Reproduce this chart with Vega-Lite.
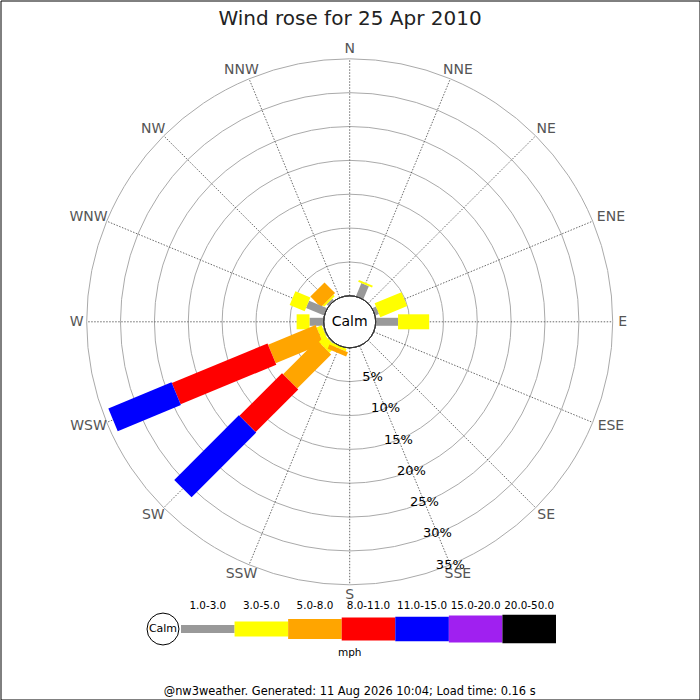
{
  "$schema": "https://vega.github.io/schema/vega-lite/v6.json",
  "width": 699,
  "height": 699,
  "padding": {"left": 0.5, "top": 0.5, "right": 0.5, "bottom": 0.5},
  "autosize": {"type": "none"},
  "background": "white",
  "title": {"text": "Wind rose for 25 Apr 2010", "fontSize": 20, "font": "DejaVu Sans", "fontWeight": "normal", "color": "#222222", "offset": -28, "anchor": "middle", "frame": "group"},
  "config": {"view": {"stroke": "#000000", "strokeWidth": 1}, "font": "DejaVu Sans"},
  "datasets": {
    "dirs": [
      {"dir": "N", "angle": 0}, {"dir": "NNE", "angle": 22.5}, {"dir": "NE", "angle": 45}, {"dir": "ENE", "angle": 67.5},
      {"dir": "E", "angle": 90}, {"dir": "ESE", "angle": 112.5}, {"dir": "SE", "angle": 135}, {"dir": "SSE", "angle": 157.5},
      {"dir": "S", "angle": 180}, {"dir": "SSW", "angle": 202.5}, {"dir": "SW", "angle": 225}, {"dir": "WSW", "angle": 247.5},
      {"dir": "W", "angle": 270}, {"dir": "WNW", "angle": 292.5}, {"dir": "NW", "angle": 315}, {"dir": "NNW", "angle": 337.5}
    ],
    "bars": [
      {"dir": "E", "angle": 90, "lo": 1, "speed": "1.0-3.0", "pct": 3.3},
      {"dir": "E", "angle": 90, "lo": 3, "speed": "3.0-5.0", "pct": 4.6},
      {"dir": "ENE", "angle": 67.5, "lo": 1, "speed": "1.0-3.0", "pct": 0.6},
      {"dir": "ENE", "angle": 67.5, "lo": 3, "speed": "3.0-5.0", "pct": 4.3},
      {"dir": "NNE", "angle": 22.5, "lo": 1, "speed": "1.0-3.0", "pct": 2.1},
      {"dir": "NNE", "angle": 22.5, "lo": 3, "speed": "3.0-5.0", "pct": 0.3},
      {"dir": "NW", "angle": 315, "lo": 1, "speed": "1.0-3.0", "pct": 0.4},
      {"dir": "NW", "angle": 315, "lo": 3, "speed": "3.0-5.0", "pct": 0.3},
      {"dir": "NW", "angle": 315, "lo": 5, "speed": "5.0-8.0", "pct": 2.2},
      {"dir": "WNW", "angle": 292.5, "lo": 1, "speed": "1.0-3.0", "pct": 2.9},
      {"dir": "WNW", "angle": 292.5, "lo": 3, "speed": "3.0-5.0", "pct": 2.4},
      {"dir": "W", "angle": 270, "lo": 1, "speed": "1.0-3.0", "pct": 2.1},
      {"dir": "W", "angle": 270, "lo": 3, "speed": "3.0-5.0", "pct": 1.9},
      {"dir": "WSW", "angle": 247.5, "lo": 1, "speed": "1.0-3.0", "pct": 0.2},
      {"dir": "WSW", "angle": 247.5, "lo": 3, "speed": "3.0-5.0", "pct": 0.8},
      {"dir": "WSW", "angle": 247.5, "lo": 5, "speed": "5.0-8.0", "pct": 7.6},
      {"dir": "WSW", "angle": 247.5, "lo": 8, "speed": "8.0-11.0", "pct": 15.3},
      {"dir": "WSW", "angle": 247.5, "lo": 11, "speed": "11.0-15.0", "pct": 10.1},
      {"dir": "SW", "angle": 225, "lo": 1, "speed": "1.0-3.0", "pct": 0.2},
      {"dir": "SW", "angle": 225, "lo": 3, "speed": "3.0-5.0", "pct": 1.3},
      {"dir": "SW", "angle": 225, "lo": 5, "speed": "5.0-8.0", "pct": 7.1},
      {"dir": "SW", "angle": 225, "lo": 8, "speed": "8.0-11.0", "pct": 8.9},
      {"dir": "SW", "angle": 225, "lo": 11, "speed": "11.0-15.0", "pct": 13.5},
      {"dir": "SSW", "angle": 202.5, "lo": 3, "speed": "3.0-5.0", "pct": 0.4},
      {"dir": "SSW", "angle": 202.5, "lo": 5, "speed": "5.0-8.0", "pct": 0.7}
    ],
    "rings": [{"pct": 5}, {"pct": 10}, {"pct": 15}, {"pct": 20}, {"pct": 25}, {"pct": 30}, {"pct": 35}],
    "classes": [
      {"speed": "1.0-3.0"}, {"speed": "3.0-5.0"}, {"speed": "5.0-8.0"}, {"speed": "8.0-11.0"},
      {"speed": "11.0-15.0"}, {"speed": "15.0-20.0"}, {"speed": "20.0-50.0"}
    ]
  },
  "layer": [
    {
      "layer": [
        {
          "data": {"name": "rings"},
          "mark": {"type": "arc", "theta": 0, "theta2": 6.2832, "filled": false, "stroke": "#aaaaaa", "strokeWidth": 1},
          "encoding": {
            "x": {"datum": 0, "type": "quantitative", "scale": {"domain": [-51.581, 51.669], "nice": false, "zero": false}, "axis": null},
            "y": {"datum": 0, "type": "quantitative", "scale": {"domain": [-55.79, 47.459], "nice": false, "zero": false}, "axis": null},
            "radius": {"field": "pct", "type": "quantitative", "stack": null, "scale": {"type": "linear", "domain": [0, 35], "range": [26, 263], "zero": false}}
          }
        },
        {
          "data": {"name": "dirs"},
          "transform": [
            {"calculate": "datum.angle*PI/180", "as": "a"},
            {"calculate": "3.84*sin(datum.a)", "as": "gx0"},
            {"calculate": "3.84*cos(datum.a)", "as": "gy0"},
            {"calculate": "38.84*sin(datum.a)", "as": "gx1"},
            {"calculate": "38.84*cos(datum.a)", "as": "gy1"}
          ],
          "mark": {"type": "rule", "stroke": "#444444", "strokeWidth": 0.8, "strokeDash": [1.5, 1.5]},
          "encoding": {
            "x": {"field": "gx0", "type": "quantitative", "scale": {"domain": [-51.581, 51.669], "nice": false, "zero": false}, "axis": null},
            "y": {"field": "gy0", "type": "quantitative", "scale": {"domain": [-55.79, 47.459], "nice": false, "zero": false}, "axis": null},
            "x2": {"field": "gx1"},
            "y2": {"field": "gy1"}
          }
        },
        {
          "data": {"name": "bars"},
          "transform": [
            {"stack": "pct", "groupby": ["dir"], "sort": [{"field": "lo", "order": "ascending"}], "as": ["p0", "p1"]},
            {"calculate": "datum.angle*PI/180", "as": "a"},
            {"calculate": "(datum.p0+3.84)*sin(datum.a)", "as": "bx0"},
            {"calculate": "(datum.p0+3.84)*cos(datum.a)", "as": "by0"},
            {"calculate": "(datum.p1+3.84)*sin(datum.a)", "as": "bx1"},
            {"calculate": "(datum.p1+3.84)*cos(datum.a)", "as": "by1"}
          ],
          "mark": {"type": "rule", "strokeCap": "butt"},
          "encoding": {
            "x": {"field": "bx0", "type": "quantitative", "scale": {"domain": [-51.581, 51.669], "nice": false, "zero": false}, "axis": null},
            "y": {"field": "by0", "type": "quantitative", "scale": {"domain": [-55.79, 47.459], "nice": false, "zero": false}, "axis": null},
            "x2": {"field": "bx1"},
            "y2": {"field": "by1"},
            "color": {"field": "speed", "type": "nominal", "scale": {"domain": ["1.0-3.0", "3.0-5.0", "5.0-8.0", "8.0-11.0", "11.0-15.0", "15.0-20.0", "20.0-50.0"], "range": ["#999999", "#ffff00", "#ffa500", "#ff0000", "#0000ff", "#a020f0", "#000000"]}, "legend": null},
            "strokeWidth": {"field": "speed", "type": "ordinal", "scale": {"type": "ordinal", "domain": ["1.0-3.0", "3.0-5.0", "5.0-8.0", "8.0-11.0", "11.0-15.0", "15.0-20.0", "20.0-50.0"], "range": [8, 15, 20, 23, 24.5, 27, 28.5]}, "legend": null}
          }
        },
        {
          "data": {"values": [{}]},
          "mark": {"type": "arc", "theta": 0, "theta2": 6.2832, "fill": "#ffffff", "stroke": "#333333", "strokeWidth": 1},
          "encoding": {
            "x": {"datum": 0, "type": "quantitative", "scale": {"domain": [-51.581, 51.669], "nice": false, "zero": false}, "axis": null},
            "y": {"datum": 0, "type": "quantitative", "scale": {"domain": [-55.79, 47.459], "nice": false, "zero": false}, "axis": null},
            "radius": {"datum": 0, "type": "quantitative", "stack": null, "scale": {"type": "linear", "domain": [0, 35], "range": [26, 263], "zero": false}}
          }
        },
        {
          "data": {"values": [{}]},
          "mark": {"type": "text", "text": "Calm", "fontSize": 14, "align": "center", "baseline": "middle", "color": "#000000"},
          "encoding": {
            "x": {"datum": 0, "type": "quantitative", "scale": {"domain": [-51.581, 51.669], "nice": false, "zero": false}, "axis": null},
            "y": {"datum": 0, "type": "quantitative", "scale": {"domain": [-55.79, 47.459], "nice": false, "zero": false}, "axis": null}
          }
        },
        {
          "data": {"name": "dirs"},
          "transform": [
            {"calculate": "datum.angle*PI/180", "as": "a"},
            {"calculate": "(39.59 + 0.724*length(datum.dir))*sin(datum.a)", "as": "lx"},
            {"calculate": "40.3*cos(datum.a)", "as": "ly"}
          ],
          "mark": {"type": "text", "fontSize": 14, "align": "center", "baseline": "middle", "color": "#555555"},
          "encoding": {
            "x": {"field": "lx", "type": "quantitative", "scale": {"domain": [-51.581, 51.669], "nice": false, "zero": false}, "axis": null},
            "y": {"field": "ly", "type": "quantitative", "scale": {"domain": [-55.79, 47.459], "nice": false, "zero": false}, "axis": null},
            "text": {"field": "dir"}
          }
        },
        {
          "data": {"name": "rings"},
          "transform": [
            {"calculate": "(datum.pct+3.84)*sin(157.5*PI/180)", "as": "tx"},
            {"calculate": "(datum.pct+3.84)*cos(157.5*PI/180)", "as": "ty"},
            {"calculate": "datum.pct + '%'", "as": "label"}
          ],
          "mark": {"type": "text", "fontSize": 13, "align": "center", "baseline": "middle", "color": "#000000"},
          "encoding": {
            "x": {"field": "tx", "type": "quantitative", "scale": {"domain": [-51.581, 51.669], "nice": false, "zero": false}, "axis": null},
            "y": {"field": "ty", "type": "quantitative", "scale": {"domain": [-55.79, 47.459], "nice": false, "zero": false}, "axis": null},
            "text": {"field": "label"}
          }
        },
        {
          "data": {"values": [{}]},
          "mark": {"type": "point", "shape": "circle", "size": 1018, "filled": true, "fill": "#ffffff", "stroke": "#000000", "strokeWidth": 1, "opacity": 1},
          "encoding": {
            "x": {"datum": -27.58, "type": "quantitative", "scale": {"domain": [-51.581, 51.669], "nice": false, "zero": false}, "axis": null},
            "y": {"datum": -45.38, "type": "quantitative", "scale": {"domain": [-55.79, 47.459], "nice": false, "zero": false}, "axis": null}
          }
        },
        {
          "data": {"values": [{}]},
          "mark": {"type": "text", "text": "Calm", "fontSize": 11, "align": "center", "baseline": "middle", "color": "#000000"},
          "encoding": {
            "x": {"datum": -27.58, "type": "quantitative", "scale": {"domain": [-51.581, 51.669], "nice": false, "zero": false}, "axis": null},
            "y": {"datum": -45.38, "type": "quantitative", "scale": {"domain": [-55.79, 47.459], "nice": false, "zero": false}, "axis": null}
          }
        },
        {
          "data": {"values": [{}]},
          "mark": {"type": "text", "text": "mph", "fontSize": 10.5, "align": "center", "baseline": "middle", "color": "#000000"},
          "encoding": {
            "x": {"datum": 0, "type": "quantitative", "scale": {"domain": [-51.581, 51.669], "nice": false, "zero": false}, "axis": null},
            "y": {"datum": -48.92, "type": "quantitative", "scale": {"domain": [-55.79, 47.459], "nice": false, "zero": false}, "axis": null}
          }
        },
        {
          "data": {"values": [{}]},
          "mark": {"type": "text", "text": "@nw3weather. Generated: 11 Aug 2026 10:04; Load time: 0.16 s", "fontSize": 11.4, "align": "center", "baseline": "middle", "color": "#000000"},
          "encoding": {
            "x": {"datum": 0, "type": "quantitative", "scale": {"domain": [-51.581, 51.669], "nice": false, "zero": false}, "axis": null},
            "y": {"datum": -54.68, "type": "quantitative", "scale": {"domain": [-55.79, 47.459], "nice": false, "zero": false}, "axis": null}
          }
        }
      ]
    },
    {
      "data": {"name": "classes"},
      "layer": [
        {
          "mark": {"type": "rule", "strokeCap": "butt"},
          "encoding": {
            "x": {"field": "speed", "type": "ordinal", "bandPosition": 0, "scale": {"type": "band", "domain": ["1.0-3.0", "3.0-5.0", "5.0-8.0", "8.0-11.0", "11.0-15.0", "15.0-20.0", "20.0-50.0"], "range": [180.5, 555.5], "paddingInner": 0, "paddingOuter": 0}, "axis": null},
            "x2": {"field": "speed", "bandPosition": 1},
            "y": {"datum": -45.38, "type": "quantitative", "scale": {"domain": [-55.79, 47.459], "nice": false, "zero": false}, "axis": null},
            "color": {"field": "speed", "type": "nominal", "scale": {"domain": ["1.0-3.0", "3.0-5.0", "5.0-8.0", "8.0-11.0", "11.0-15.0", "15.0-20.0", "20.0-50.0"], "range": ["#999999", "#ffff00", "#ffa500", "#ff0000", "#0000ff", "#a020f0", "#000000"]}, "legend": null},
            "strokeWidth": {"field": "speed", "type": "ordinal", "scale": {"type": "ordinal", "domain": ["1.0-3.0", "3.0-5.0", "5.0-8.0", "8.0-11.0", "11.0-15.0", "15.0-20.0", "20.0-50.0"], "range": [8, 15, 20, 23, 24.5, 27, 28.5]}, "legend": null}
          }
        },
        {
          "mark": {"type": "text", "fontSize": 10.4, "align": "center", "baseline": "middle", "color": "#000000"},
          "encoding": {
            "x": {"field": "speed", "type": "ordinal", "scale": {"type": "band", "domain": ["1.0-3.0", "3.0-5.0", "5.0-8.0", "8.0-11.0", "11.0-15.0", "15.0-20.0", "20.0-50.0"], "range": [180.5, 555.5], "paddingInner": 0, "paddingOuter": 0}, "axis": null},
            "y": {"datum": -42.05, "type": "quantitative", "scale": {"domain": [-55.79, 47.459], "nice": false, "zero": false}, "axis": null},
            "text": {"field": "speed"}
          }
        }
      ]
    }
  ],
  "resolve": {"scale": {"x": "independent"}}
}
